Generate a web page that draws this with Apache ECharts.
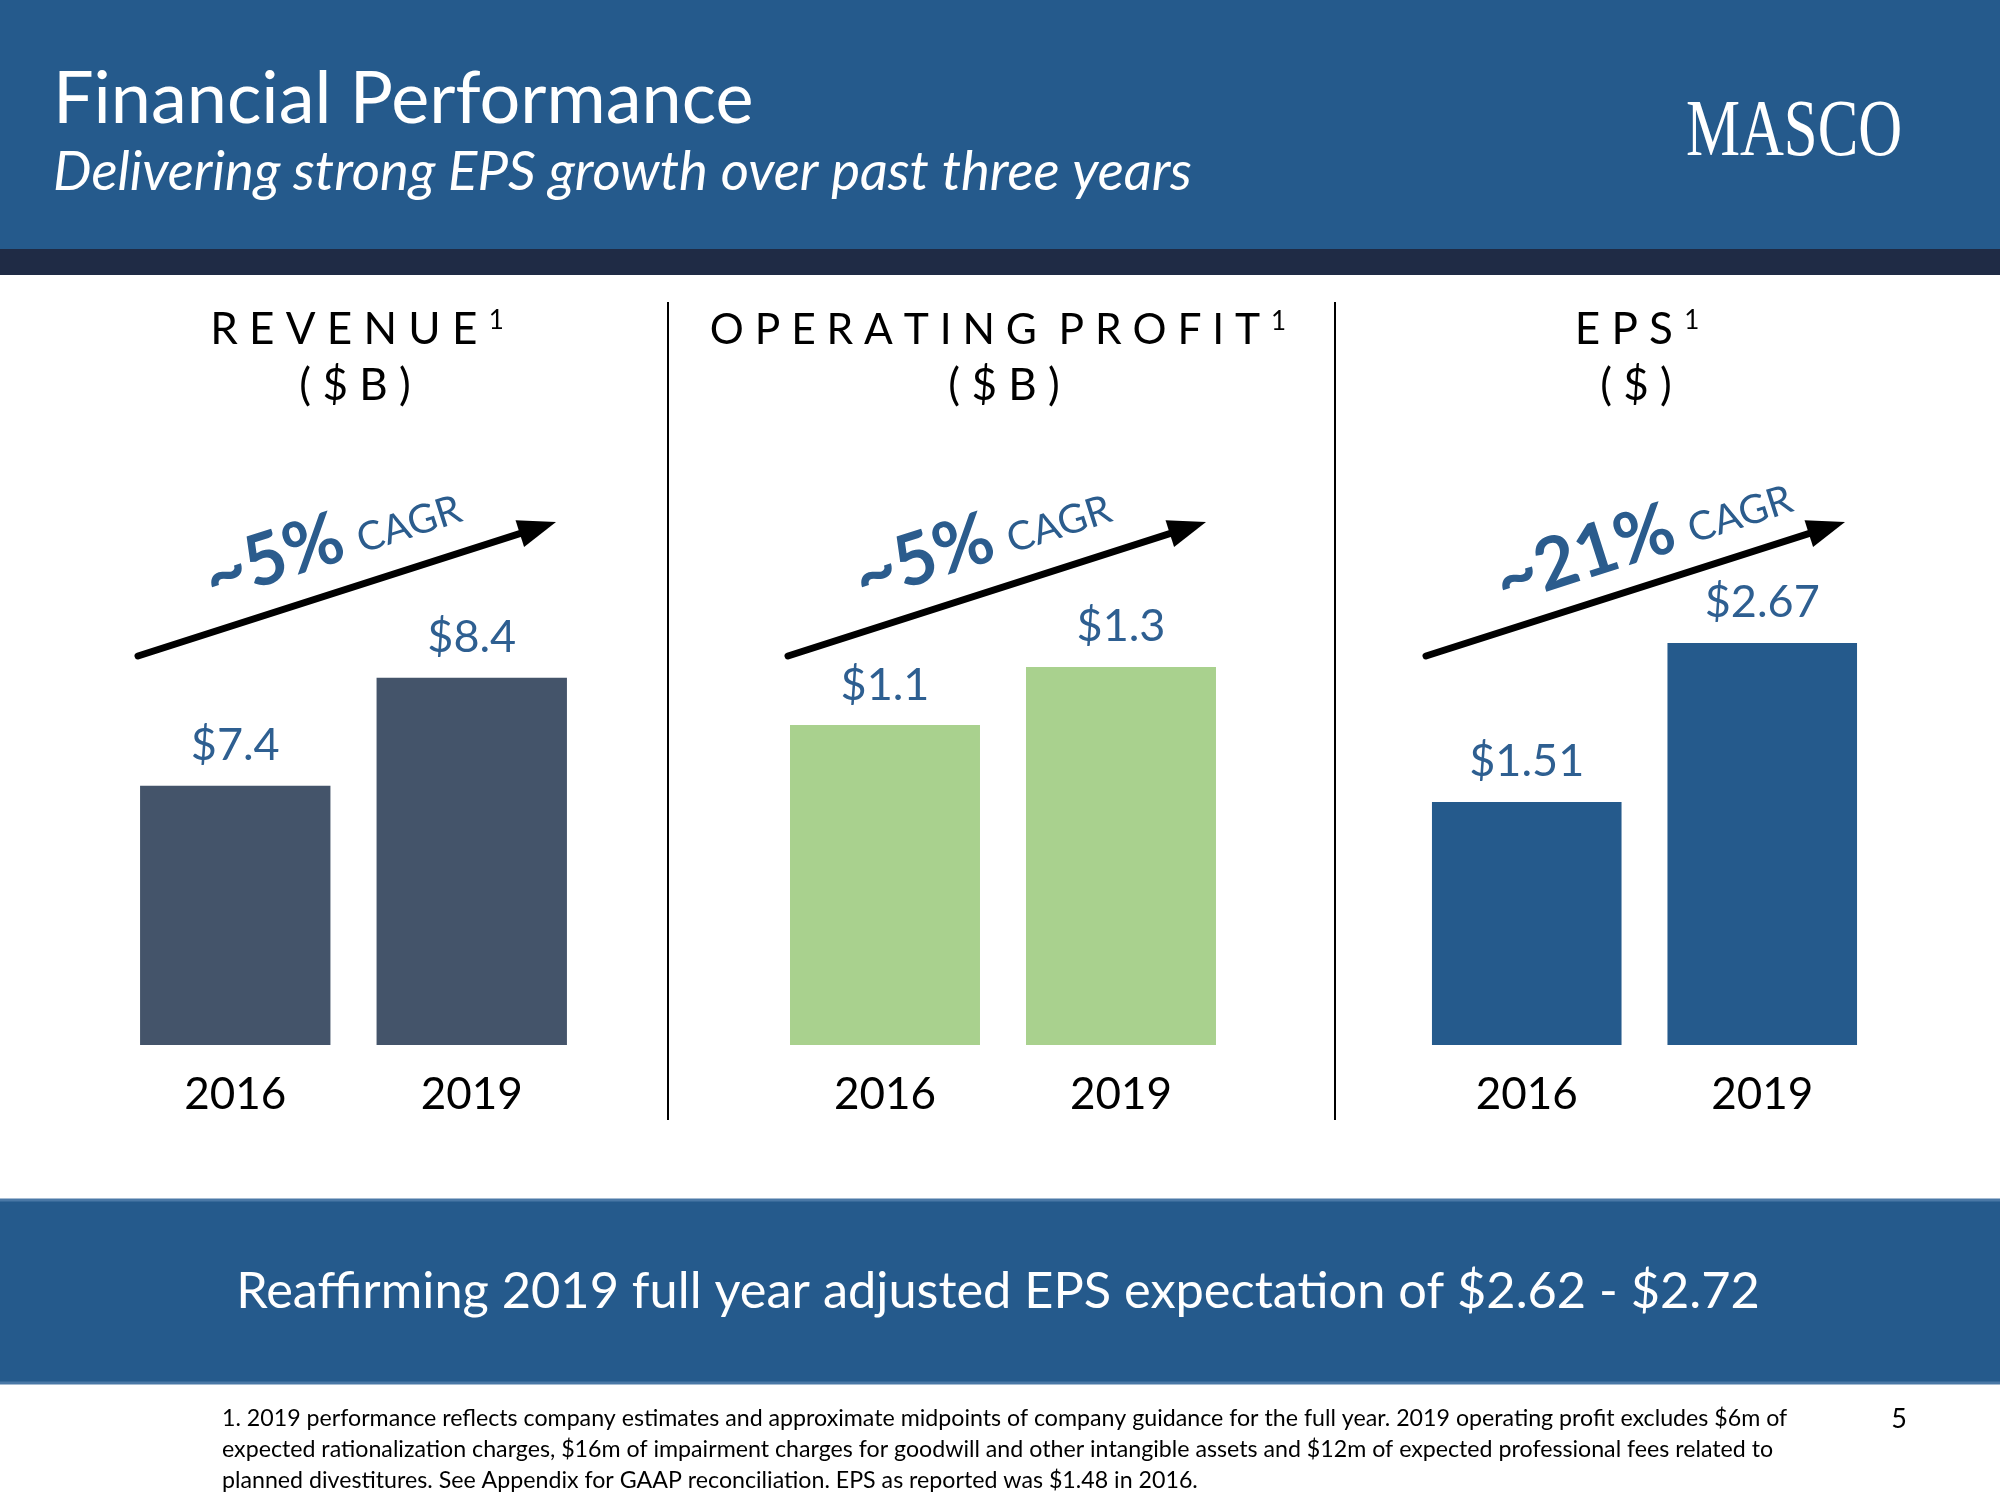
<!DOCTYPE html>
<html><head><meta charset="utf-8">
<script src="https://cdn.jsdelivr.net/npm/echarts@6.0.0/dist/echarts.min.js"></script>
<style>html,body{margin:0;padding:0;background:#fff}#chart{width:2000px;height:1500px}</style>
</head><body><div id="chart"></div>
<script>
// ---------- data ----------
const years = ['2016', '2019'];
const revenue = [7.4, 8.4];
const operatingProfit = [1.1, 1.3];
const eps = [1.51, 2.67];
const panelTitles = ['R E V E N U E', 'O P E R A T I N G  P R O F I T', 'E P S'];
const panelUnits = ['( $ B )', '( $ B )', '( $ )'];
const cagrValues = ['~5%', '~5%', '~21%'];
const cagrWord = 'CAGR';
const titleText = 'Financial Performance';
const subtitleText = 'Delivering strong EPS growth over past three years';
const logoText = 'MASCO';
const bandText = 'Reaffirming 2019 full year adjusted EPS expectation of $2.62 - $2.72';
const footnoteLines = [
  '1. 2019 performance reflects company estimates and approximate midpoints of company guidance for the full year. 2019 operating profit excludes $6m of',
  'expected rationalization charges, $16m of impairment charges for goodwill and other intangible assets and $12m of expected professional fees related to',
  'planned divestitures. See Appendix for GAAP reconciliation. EPS as reported was $1.48 in 2016.'
];
const pageNumber = '5';

// ---------- styling / layout ----------
const FONT = 'Lato';
const BLUE = '#255A8C';
const LABEL_BLUE = '#2E5F91';
const panels = [
  {values: revenue, color: '#44546A', min: 5, max: 11, left: 117, width: 473, dec: 1, cx: 357, ucx: 355, hs: 44},
  {values: operatingProfit, color: '#A9D18E', min: 0, max: 2.228, left: 767, width: 472, dec: 1, cx: 998, ucx: 1004, hs: 42.5},
  {values: eps, color: '#255A8C', min: -0.263, max: 4.464, left: 1409, width: 471, dec: 2, cx: 1637, ucx: 1636, hs: 44}
];
const GRID_TOP = 397, GRID_H = 648;

function makeRender(p) {
  return function (params, api) {
    const c = api.value(0), v = api.value(1);
    const top = api.coord([c, v]);
    const base = api.coord([c, p.min]);
    const w = api.size([1, 0])[0] * 0.805;
    return {type: 'group', children: [
      {type: 'rect', shape: {x: top[0] - w / 2, y: top[1], width: w, height: base[1] - top[1]}, style: {fill: p.color}},
      {type: 'text', x: top[0], y: top[1] - 40, style: {text: '$' + v.toFixed(p.dec), fill: LABEL_BLUE, fontSize: 45, fontFamily: FONT, align: 'center', verticalAlign: 'middle'}}
    ]};
  };
}

const grids = [], xAxes = [], yAxes = [], series = [];
panels.forEach((p, i) => {
  grids.push({left: p.left, width: p.width, top: GRID_TOP, height: GRID_H});
  xAxes.push({type: 'category', gridIndex: i, data: years, axisLine: {show: false}, axisTick: {show: false},
    axisLabel: {fontSize: 44, fontFamily: FONT, color: '#000', margin: 50, verticalAlign: 'middle'}});
  yAxes.push({type: 'value', gridIndex: i, min: p.min, max: p.max, show: false, splitLine: {show: false}});
  series.push({type: 'custom', xAxisIndex: i, yAxisIndex: i, clip: false, renderItem: makeRender(p),
    data: p.values.map((v, k) => [years[k], v])});
});

// ---------- annotations ----------
const graphic = [];
graphic.push({type: 'rect', shape: {x: 0, y: 0, width: 2000, height: 249}, style: {fill: BLUE}, z: 0});
graphic.push({type: 'rect', shape: {x: 0, y: 249, width: 2000, height: 26}, style: {fill: '#1F2B45'}, z: 0});
graphic.push({type: 'text', x: 53, y: 100, style: {text: titleText, fill: '#fff', fontSize: 72, fontFamily: FONT, align: 'left', verticalAlign: 'middle'}});
graphic.push({type: 'text', x: 53, y: 172, style: {text: subtitleText, fill: '#fff', fontSize: 54.5, fontStyle: 'italic', fontFamily: FONT, align: 'left', verticalAlign: 'middle'}});
graphic.push({type: 'text', x: 1794, y: 134, scaleX: 0.76, style: {text: logoText, fill: '#fff', fontSize: 80, fontFamily: 'Liberation Serif', align: 'center', verticalAlign: 'middle'}});

// dividers
[668, 1335].forEach(x => graphic.push({type: 'line', shape: {x1: x, y1: 302, x2: x, y2: 1120}, style: {stroke: '#000', lineWidth: 2}}));

// panel headings
panels.forEach((p, i) => {
  graphic.push({type: 'text', x: p.cx, y: 330, style: {
    text: '{a|' + panelTitles[i] + ' }{s|1}', align: 'center', verticalAlign: 'middle',
    rich: {a: {fontSize: p.hs, fontFamily: FONT, fill: '#000'}, s: {fontSize: 26, fontFamily: FONT, fill: '#000', verticalAlign: 'top'}}}});
  graphic.push({type: 'text', x: p.ucx, y: 386, style: {text: panelUnits[i], fill: '#000', fontSize: 44, fontFamily: FONT, align: 'center', verticalAlign: 'middle'}});
});

// arrows + CAGR text
const arrows = [[138, 656, 556, 522], [788, 656, 1206, 522], [1426, 656, 1845, 522]];
const cagrPos = [
  {a: [206, 580], b: [358, 541]},
  {a: [856, 580], b: [1008, 541]},
  {a: [1497, 583], b: [1689, 531]}
];
arrows.forEach((a, i) => {
  const [x1, y1, x2, y2] = a;
  const ang = Math.atan2(y2 - y1, x2 - x1);
  const L = 38, H = 14;
  const bx = x2 - L * Math.cos(ang), by = y2 - L * Math.sin(ang);
  const nx = -Math.sin(ang), ny = Math.cos(ang);
  graphic.push({type: 'line', shape: {x1: x1, y1: y1, x2: bx + 4 * Math.cos(ang), y2: by + 4 * Math.sin(ang)}, style: {stroke: '#000', lineWidth: 7, lineCap: 'round'}});
  graphic.push({type: 'polygon', shape: {points: [[x2, y2], [bx + nx * H, by + ny * H], [bx - nx * H, by - ny * H]]}, style: {fill: '#000'}});
  const rot = -ang;
  graphic.push({type: 'text', x: cagrPos[i].a[0], y: cagrPos[i].a[1], rotation: rot, style: {text: cagrValues[i], fill: '#2B5C8D', fontSize: 72, fontWeight: 'bold', fontFamily: FONT, align: 'left', verticalAlign: 'middle'}});
  graphic.push({type: 'text', x: cagrPos[i].b[0], y: cagrPos[i].b[1], rotation: rot, style: {text: cagrWord, fill: '#2B5C8D', fontSize: 40, fontFamily: FONT, align: 'left', verticalAlign: 'middle'}});
});

// bottom band
graphic.push({type: 'rect', shape: {x: -2, y: 1200, width: 2004, height: 183}, style: {fill: BLUE, stroke: '#4A78A6', lineWidth: 3}});
graphic.push({type: 'text', x: 998, y: 1292, style: {text: bandText, fill: '#fff', fontSize: 50.5, fontFamily: FONT, align: 'center', verticalAlign: 'middle'}});

// footnotes
footnoteLines.forEach((t, i) => graphic.push({type: 'text', x: 222, y: 1419 + i * 31, style: {text: t, fill: '#000', fontSize: 23.2, fontFamily: FONT, align: 'left', verticalAlign: 'middle'}}));
graphic.push({type: 'text', x: 1899, y: 1419, style: {text: pageNumber, fill: '#000', fontSize: 27, fontFamily: FONT, align: 'center', verticalAlign: 'middle'}});

const chart = echarts.init(document.getElementById('chart'), null, {renderer: 'canvas'});
chart.setOption({
  backgroundColor: '#fff',
  animation: false,
  grid: grids, xAxis: xAxes, yAxis: yAxes, series: series,
  graphic: graphic
});
</script></body></html>
